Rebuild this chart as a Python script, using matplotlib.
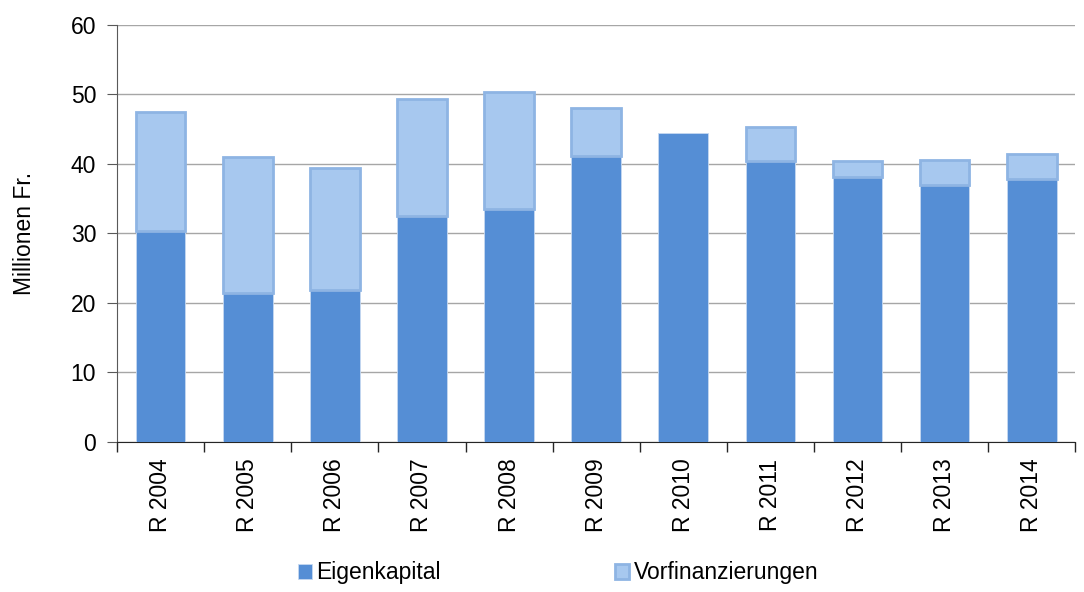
import matplotlib.pyplot as plt
import numpy as np

plt.rcParams['font.family'] = ['Liberation Sans', 'DejaVu Sans']

years = ['R 2004', 'R 2005', 'R 2006', 'R 2007', 'R 2008', 'R 2009',
         'R 2010', 'R 2011', 'R 2012', 'R 2013', 'R 2014']
eigenkapital = [30.4, 21.4, 21.9, 32.5, 33.5, 41.2, 44.5, 40.4, 38.1, 37.0, 37.8]
vorfinanzierungen = [17.1, 19.6, 17.5, 16.9, 16.9, 6.9, 0.0, 4.9, 2.3, 3.6, 3.6]

fig = plt.figure(figsize=(10.84, 5.92), dpi=100)
ax = fig.add_axes([0.108, 0.2534, 0.884, 0.7044])

x = np.arange(len(years))
w = 0.57
ax.bar(x, eigenkapital, w, color='#558ED5', edgecolor='#C6D9F1', linewidth=0.6,
       label='Eigenkapital', zorder=3)
vx = [xi for xi, v in zip(x, vorfinanzierungen) if v > 0]
vv = [v for v in vorfinanzierungen if v > 0]
vb = [e for e, v in zip(eigenkapital, vorfinanzierungen) if v > 0]
ax.bar(vx, vv, w, bottom=vb, color='#A7C8EF', edgecolor='#8EB4E3', linewidth=2,
       label='Vorfinanzierungen', zorder=3)

ax.set_xlim(-0.5, len(years) - 0.5)
ax.set_ylim(0, 60)
ax.set_yticks(range(0, 61, 10))
ax.yaxis.grid(True, color='#A6A6A6', linewidth=1, zorder=0)
ax.set_axisbelow(True)

ax.set_xticks(x)
ax.set_xticklabels(years, rotation=90, fontsize=16.5)
ax.tick_params(axis='x', length=0, pad=12)
ax.set_xticks(np.arange(-0.5, len(years), 1), minor=True)
ax.tick_params(axis='x', which='minor', length=7, width=1, color='#262626', direction='out')
ax.tick_params(axis='y', labelsize=16.5, length=7, color='#595959', pad=8)

for s in ['top', 'right']:
    ax.spines[s].set_visible(False)
ax.spines['left'].set_color('#595959')
ax.spines['bottom'].set_color('#262626')

ax.set_ylabel('Millionen Fr.', fontsize=16.5, labelpad=25)

fig.legend(loc='lower center', bbox_to_anchor=(0.515, -0.022), ncol=2, frameon=False,
           fontsize=16.5, handlelength=0.6, handleheight=0.6, handletextpad=0.2,
           columnspacing=7.6)

fig.savefig('out.png', dpi=100)
